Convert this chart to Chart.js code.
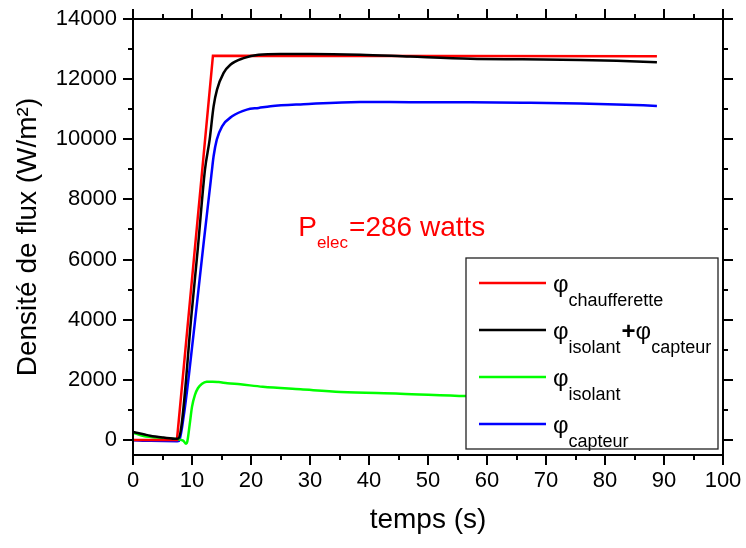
<!DOCTYPE html>
<html>
<head>
<meta charset="utf-8">
<script src="https://cdn.jsdelivr.net/npm/chart.js@4.4.1/dist/chart.umd.min.js"></script>
<style>
  html, body { margin:0; padding:0; background:#fff; }
  canvas { display:block; }
</style>
</head>
<body>
<canvas id="c" width="746" height="548"></canvas>
<script>
// ----- data (t in s, flux in W/m²) -----
const xTicks = [0,10,20,30,40,50,60,70,80,90,100];
const yTicks = [0,2000,4000,6000,8000,10000,12000,14000];

const tRed    = [0, 7.45, 13.55, 88.8];
const fluxRed = [0, 0, 12780, 12760];

const tBlack    = [0, 1.8, 2.9, 5.2, 7.45, 7.7, 10.0, 11.0, 12.2, 12.99, 13.66, 14.24, 15.36, 16.5, 18.75, 21.3, 25, 30, 38.5, 47, 57.2, 66, 75.8, 82, 88.8];
const fluxBlack = [265, 190, 140, 80, 40, 50, 4342, 6400, 8993, 9987, 11096, 11650, 12206, 12480, 12700, 12814, 12840, 12840, 12814, 12750, 12680, 12660, 12640, 12610, 12560];

const tGreen    = [0, 1.8, 3, 5.2, 7.45, 8.5, 9.0, 9.2, 9.6, 10.0, 10.5, 11.0, 11.7, 12.5, 13.5, 14.5, 16, 18.2, 22, 28.4, 35.2, 45.3, 56.5, 66, 76, 88.8];
const fluxGreen = [245, 133, 100, 60, 20, -20, -130, -60, 500, 1100, 1500, 1720, 1870, 1935, 1940, 1925, 1890, 1850, 1770, 1684, 1595, 1541, 1462, 1440, 1420, 1400];

const tBlue    = [0, 3, 7.5, 7.8, 8.6, 9.5, 10.73, 12, 13.2, 13.39, 13.66, 14.2, 15.1, 16.8, 19.3, 21.3, 23.3, 28.9, 38.5, 47, 57.2, 66, 75.8, 82, 88.8];
const fluxBlue = [-10, -30, -40, -30, 800, 2200, 4342, 6600, 8655, 8993, 9435, 9987, 10432, 10764, 10987, 11043, 11100, 11167, 11243, 11235, 11230, 11215, 11190, 11160, 11110];

const zip = (t, f) => t.map((v, i) => ({ x: v, y: f[i] }));

const FONT = '"Liberation Sans", Arial, sans-serif';

// legend entries: [colour, pieces] ; piece = [text, kind] kind: 'phi' | 'sub' | 'plus'
const legendItems = [
  ['#ff0000', [['φ','phi'],['chaufferette','sub']]],
  ['#000000', [['φ','phi'],['isolant','sub'],['+','plus'],['φ','phi'],['capteur','sub']]],
  ['#00ff00', [['φ','phi'],['isolant','sub']]],
  ['#0000ff', [['φ','phi'],['capteur','sub']]]
];

// frame + ticks on four sides
const frameTicks = {
  id: 'frameTicks',
  afterDatasetsDraw(chart){
    const {ctx, chartArea:a, scales:{x, y}} = chart;
    ctx.save();
    ctx.strokeStyle = '#000'; ctx.lineWidth = 2;
    ctx.beginPath();
    for (let v = 0; v <= 100; v += 5){
      const px = Math.round(x.getPixelForValue(v));
      const len = v % 10 === 0 ? 10 : 5;
      ctx.moveTo(px, a.bottom); ctx.lineTo(px, a.bottom + len);
      ctx.moveTo(px, a.top); ctx.lineTo(px, a.top - len);
    }
    for (let v = 0; v <= 14000; v += 1000){
      const py = Math.round(y.getPixelForValue(v));
      const len = v % 2000 === 0 ? 10 : 5;
      ctx.moveTo(a.left, py); ctx.lineTo(a.left - len, py);
      ctx.moveTo(a.right, py); ctx.lineTo(a.right + len, py);
    }
    ctx.stroke();
    ctx.strokeRect(a.left, a.top, a.right - a.left, a.bottom - a.top);
    ctx.restore();
  }
};

// P_elec label + legend box
const notes = {
  id: 'notes',
  afterDraw(chart){
    const {ctx, chartArea:a, scales:{x, y}} = chart;
    ctx.save();
    // P elec
    let px = x.getPixelForValue(28), py = y.getPixelForValue(6770);
    ctx.fillStyle = '#ff0000'; ctx.textBaseline = 'alphabetic'; ctx.textAlign = 'left';
    ctx.font = '28px ' + FONT; ctx.fillText('P', px, py); px += ctx.measureText('P').width;
    ctx.font = '17px ' + FONT; ctx.fillText('elec', px, py + 12); px += ctx.measureText('elec').width + 1;
    ctx.font = '28px ' + FONT; ctx.fillText('=286 watts', px, py);

    // legend
    const L = a.right - 257, T = a.top + 239, R = a.right - 5, B = a.bottom - 6;
    ctx.fillStyle = '#fff'; ctx.fillRect(L, T, R - L, B - T);
    ctx.strokeStyle = '#222'; ctx.lineWidth = 1.3; ctx.strokeRect(L, T, R - L, B - T);
    legendItems.forEach(([col, pieces], i) => {
      const ly = T + 25 + i * 47;
      ctx.strokeStyle = col; ctx.lineWidth = 2.5;
      ctx.beginPath(); ctx.moveTo(L + 13, ly); ctx.lineTo(L + 80, ly); ctx.stroke();
      ctx.fillStyle = '#000';
      let tx = L + 87;
      pieces.forEach(([s, kind]) => {
        if (kind === 'phi'){ ctx.font = '24px ' + FONT; ctx.fillText(s, tx, ly + 8.5); }
        else if (kind === 'plus'){ ctx.font = 'bold 24px ' + FONT; ctx.fillText(s, tx, ly + 8.5); }
        else { ctx.font = '18px ' + FONT; ctx.fillText(s, tx, ly + 22.5); }
        tx += ctx.measureText(s).width + (kind === 'sub' ? 1 : 0);
      });
    });
    ctx.restore();
  }
};

const lineDs = (label, data, color, order, smooth) => ({
  label, data, borderColor: color, backgroundColor: color, borderWidth: 2.5,
  pointRadius: 0, fill: false, order,
  tension: smooth ? 0.4 : 0, cubicInterpolationMode: smooth ? 'monotone' : 'default'
});

new Chart(document.getElementById('c'), {
  type: 'line',
  data: {
    datasets: [
      lineDs('φ isolant+φ capteur', zip(tBlack, fluxBlack), '#000000', 0, true),
      lineDs('φ chaufferette', zip(tRed, fluxRed), '#ff0000', 1, false),
      lineDs('φ isolant', zip(tGreen, fluxGreen), '#00ff00', 2, true),
      lineDs('φ capteur', zip(tBlue, fluxBlue), '#0000ff', 3, true)
    ]
  },
  options: {
    responsive: false,
    animation: false,
    events: [],
    layout: { padding: { top: 19, right: 23, left: 0, bottom: 0 } },
    plugins: { legend: { display: false }, tooltip: { enabled: false } },
    scales: {
      x: {
        type: 'linear', min: 0, max: 100,
        afterBuildTicks: s => { s.ticks = xTicks.map(v => ({ value: v })); },
        afterFit: s => { s.height = 93; },
        grid: { drawOnChartArea: false, drawTicks: true, tickLength: 11, tickColor: 'rgba(0,0,0,0)' },
        border: { display: false },
        ticks: { color: '#000', font: { family: FONT, size: 22 }, padding: 2, maxRotation: 0, autoSkip: false, callback: v => String(v) },
        title: { display: true, text: 'temps (s)', color: '#000', font: { family: FONT, size: 28 }, padding: { top: 0, bottom: 11 } }
      },
      y: {
        type: 'linear', min: -500, max: 14000,
        afterBuildTicks: s => { s.ticks = yTicks.map(v => ({ value: v })); },
        afterFit: s => { s.width = 133; },
        grid: { drawOnChartArea: false, drawTicks: true, tickLength: 11, tickColor: 'rgba(0,0,0,0)' },
        border: { display: false },
        ticks: { color: '#000', font: { family: FONT, size: 22 }, padding: 5, autoSkip: false, callback: v => String(v) },
        title: { display: true, text: 'Densité de flux (W/m²)', color: '#000', font: { family: FONT, size: 28 }, padding: { top: 11, bottom: 0 } }
      }
    }
  },
  plugins: [frameTicks, notes]
});
</script>
</body>
</html>
